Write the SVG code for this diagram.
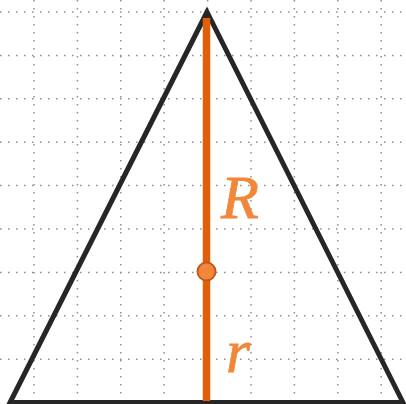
<svg xmlns="http://www.w3.org/2000/svg" width="406" height="404" viewBox="0 0 406 404">
<style>
.grid line{stroke:#8f8f8f;stroke-width:1.5;stroke-dasharray:1.5 6.5}
.lbl{font-family:"Liberation Serif","Times New Roman",serif;font-style:italic;fill:#F0873A;stroke:#F0873A;stroke-width:0.8}
</style>
<rect width="406" height="404" fill="#fff"/>
<g class="grid">
<line x1="0" y1="12" x2="406" y2="12"/>
<line x1="0" y1="55.4" x2="406" y2="55.4"/>
<line x1="0" y1="98.8" x2="406" y2="98.8"/>
<line x1="0" y1="142.2" x2="406" y2="142.2"/>
<line x1="0" y1="185.6" x2="406" y2="185.6"/>
<line x1="0" y1="229" x2="406" y2="229"/>
<line x1="0" y1="272.4" x2="406" y2="272.4"/>
<line x1="0" y1="315.8" x2="406" y2="315.8"/>
<line x1="0" y1="359.2" x2="406" y2="359.2"/>
<line x1="34" y1="0" x2="34" y2="404"/>
<line x1="77.4" y1="0" x2="77.4" y2="404"/>
<line x1="120.8" y1="0" x2="120.8" y2="404"/>
<line x1="164.2" y1="0" x2="164.2" y2="404"/>
<line x1="207.6" y1="0" x2="207.6" y2="404"/>
<line x1="251" y1="0" x2="251" y2="404"/>
<line x1="294.4" y1="0" x2="294.4" y2="404"/>
<line x1="337.8" y1="0" x2="337.8" y2="404"/>
<line x1="381.2" y1="0" x2="381.2" y2="404"/>
</g>
<g id="triangle">
<polygon points="207,12 10,402.5 403,402.5" fill="none" stroke="#262626" stroke-width="5" stroke-linejoin="miter"/>
</g>
<g id="connectors">
<line x1="206.5" y1="18" x2="206.5" y2="401" stroke="#E0600A" stroke-width="7.5"/>
</g>
<g id="center">
<circle cx="206.5" cy="271.5" r="9" fill="#F0873A" stroke="#C4581C" stroke-width="2"/>
</g>
<g id="labels">
<text class="lbl" x="221" y="218" font-size="62">R</text>
<text class="lbl" x="226" y="372" font-size="62">r</text>
</g>
</svg>
